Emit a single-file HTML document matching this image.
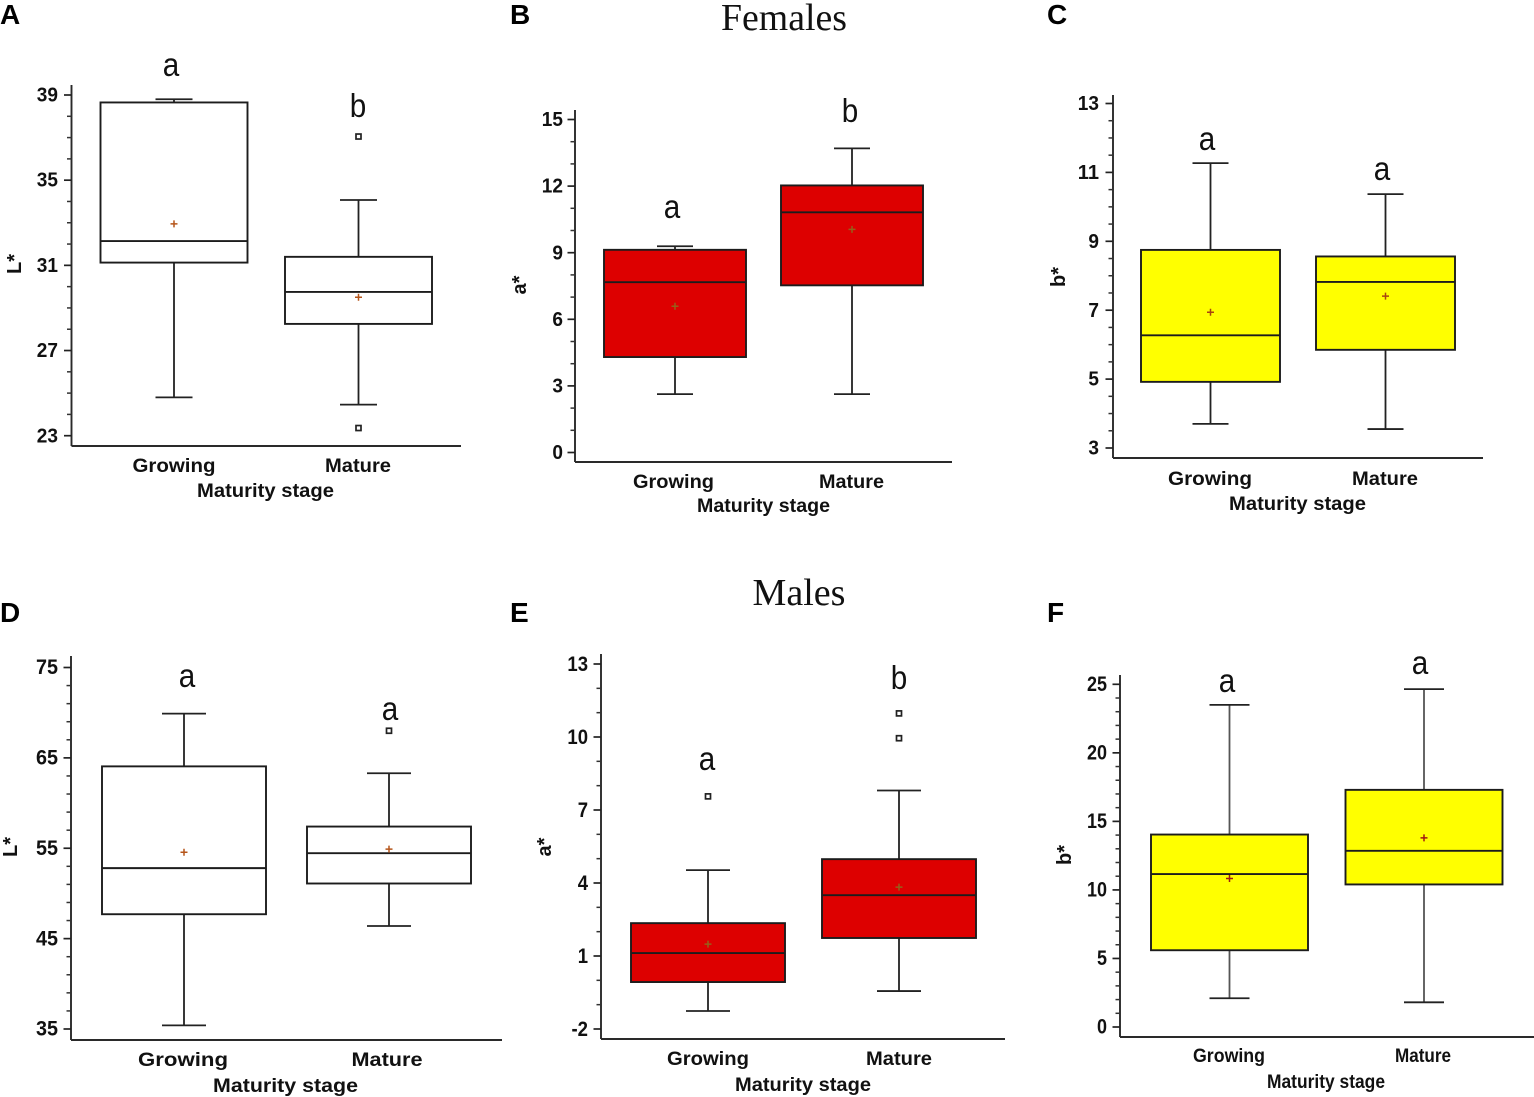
<!DOCTYPE html>
<html lang="en">
<head>
<meta charset="utf-8">
<title>Colour parameters by maturity stage</title>
<style>
html,body{margin:0;padding:0;background:#fff;width:1534px;height:1097px;overflow:hidden}
svg{display:block;filter:blur(0.35px)}
text{font-family:"Liberation Sans",sans-serif;fill:#111}
</style>
</head>
<body>
<svg id="figure" width="1534" height="1097" viewBox="0 0 1534 1097" xmlns="http://www.w3.org/2000/svg">
  <text x="0" y="24" font-size="28" font-weight="bold" style="fill:#000">A</text>
  <text x="510" y="24" font-size="28" font-weight="bold" style="fill:#000">B</text>
  <text x="1047" y="24" font-size="28" font-weight="bold" style="fill:#000">C</text>
  <text x="0" y="622" font-size="28" font-weight="bold" style="fill:#000">D</text>
  <text x="510" y="622" font-size="28" font-weight="bold" style="fill:#000">E</text>
  <text x="1047" y="622" font-size="28" font-weight="bold" style="fill:#000">F</text>
  <text x="784" y="30" font-size="38" text-anchor="middle" textLength="126" lengthAdjust="spacingAndGlyphs" style="font-family:'Liberation Serif',serif">Females</text>
  <text x="799" y="605" font-size="38" text-anchor="middle" textLength="93" lengthAdjust="spacingAndGlyphs" style="font-family:'Liberation Serif',serif">Males</text>
</svg>
<script>
// Shared text
const categories = ['Growing', 'Mature'];
const xAxisTitle = 'Maturity stage';

// Box statistics: [lower whisker, Q1, median, Q3, upper whisker]
const boxesA = [[24.8, 31.13, 32.14, 38.65, 38.8], [24.46, 28.25, 29.75, 31.4, 34.07]];
const boxesB = [[2.63, 4.3, 7.67, 9.13, 9.29], [2.63, 7.53, 10.82, 12.03, 13.7]];
const boxesC = [[3.7, 4.92, 6.27, 8.75, 11.27], [3.55, 5.85, 7.82, 8.56, 10.37]];
const boxesD = [[35.4, 47.7, 52.8, 64.06, 69.9], [46.4, 51.1, 54.45, 57.4, 63.3]];
const boxesE = [[-1.26, -0.07, 1.12, 2.35, 4.53], [-0.44, 1.74, 3.5, 4.98, 7.8]];
const boxesF = [[2.1, 5.6, 11.16, 14.04, 23.5], [1.8, 10.4, 12.85, 17.3, 24.65]];

// Means
const meansA = [32.95, 29.5];
const meansB = [6.59, 10.05];
const meansC = [6.94, 7.41];
const meansD = [54.56, 54.9];
const meansE = [1.49, 3.83];
const meansF = [10.83, 13.8];

// Outliers
const outliersA = [[], [37.05, 23.36]];
const outliersB = [[], []];
const outliersC = [[], []];
const outliersD = [[], [68.0]];
const outliersE = [[7.56], [10.97, 9.95]];
const outliersF = [[], []];

// Tick labels
const ticksA = [23, 27, 31, 35, 39];
const ticksB = [0, 3, 6, 9, 12, 15];
const ticksC = [3, 5, 7, 9, 11, 13];
const ticksD = [35, 45, 55, 65, 75];
const ticksE = [-2, 1, 4, 7, 10, 13];
const ticksF = [0, 5, 10, 15, 20, 25];

// Significance letters
const lettersA = ['a', 'b'];
const lettersB = ['a', 'b'];
const lettersC = ['a', 'a'];
const lettersD = ['a', 'a'];
const lettersE = ['a', 'b'];
const lettersF = ['a', 'a'];

const panels = [
  {id:'a', boxes:boxesA, means:meansA, outliers:outliersA, ticks:ticksA, letters:lettersA, yTitle:'L*',
   axisX:71.5, axisTop:85, axisBottom:446, axisRight:461, yPx:[435.7,95], minor:3,
   centers:[174,358.5], boxHalf:73.5, cap:18.5, whisker:'#222', tickEnd:58, tickSize:20.5, digitWidth:10.6,
   catX:[174,358], catW:[83,66], catY:472, titleX:265.5, titleW:137, titleY:497,
   yTitleX:21, yTitleY:264, letterX:[171,358], letterY:[76,117], fill:'#fff', meanColor:'#b5551a'},
  {id:'b', boxes:boxesB, means:meansB, outliers:outliersB, ticks:ticksB, letters:lettersB, yTitle:'a*',
   axisX:575, axisTop:110, axisBottom:462, axisRight:952, yPx:[452.5,119.5], minor:2,
   centers:[675,852], boxHalf:71, cap:18, whisker:'#222', tickEnd:563, tickSize:20.5, digitWidth:10.6,
   catX:[673.5,851.5], catW:[81,65], catY:488, titleX:763.5, titleW:133, titleY:512,
   yTitleX:526, yTitleY:285, letterX:[672,850], letterY:[218,122], fill:'#dd0000', meanColor:'#96601a'},
  {id:'c', boxes:boxesC, means:meansC, outliers:outliersC, ticks:ticksC, letters:lettersC, yTitle:'b*',
   axisX:1113, axisTop:95, axisBottom:458, axisRight:1483, yPx:[448,103.5], minor:3,
   centers:[1210.5,1385.5], boxHalf:69.5, cap:18, whisker:'#222', tickEnd:1099, tickSize:20.5, digitWidth:10.6,
   catX:[1210,1385], catW:[84,66], catY:485, titleX:1297.5, titleW:137, titleY:510,
   yTitleX:1065, yTitleY:277, letterX:[1207,1382], letterY:[150,180], fill:'#ffff00', meanColor:'#a8450f'},
  {id:'d', boxes:boxesD, means:meansD, outliers:outliersD, ticks:ticksD, letters:lettersD, yTitle:'L*',
   axisX:71, axisTop:656, axisBottom:1040, axisRight:502, yPx:[1029,667.5], minor:4,
   centers:[184,389], boxHalf:82, cap:22, whisker:'#222', tickEnd:58, tickSize:21, digitWidth:11,
   catX:[183,387], catW:[90,71], catY:1066, titleX:285.5, titleW:145, titleY:1092,
   yTitleX:17, yTitleY:847, letterX:[187,390], letterY:[687,720], fill:'#fff', meanColor:'#b5551a'},
  {id:'e', boxes:boxesE, means:meansE, outliers:outliersE, ticks:ticksE, letters:lettersE, yTitle:'a*',
   axisX:601, axisTop:654, axisBottom:1039, axisRight:1005, yPx:[1029,664], minor:2,
   centers:[708,899], boxHalf:77, cap:22, whisker:'#222', tickEnd:588, tickSize:21.5, digitWidth:10.3,
   catX:[708,899], catW:[82,66], catY:1065, titleX:803, titleW:136, titleY:1091,
   yTitleX:551, yTitleY:847, letterX:[707,899], letterY:[770,689], fill:'#dd0000', meanColor:'#96601a'},
  {id:'f', boxes:boxesF, means:meansF, outliers:outliersF, ticks:ticksF, letters:lettersF, yTitle:'b*',
   axisX:1120, axisTop:675, axisBottom:1037, axisRight:1534, yPx:[1027,684.3], minor:4,
   centers:[1229.5,1424], boxHalf:78.5, cap:20, whisker:'#555', tickEnd:1107, tickSize:21, digitWidth:10,
   catX:[1229,1423], catW:[72,56], catY:1062, titleX:1326, titleW:118, titleY:1088,
   yTitleX:1071, yTitleY:855, letterX:[1227,1420], letterY:[692,674], fill:'#ffff00', meanColor:'#a01a10'}
];

const NS = 'http://www.w3.org/2000/svg';
const svg = document.getElementById('figure');

function node(parent, tag, attrs) {
  const el = document.createElementNS(NS, tag);
  for (const k in attrs) el.setAttribute(k, attrs[k]);
  parent.appendChild(el);
  return el;
}

function makeYScale(p) {
  const d0 = p.ticks[0], d1 = p.ticks[p.ticks.length - 1];
  return v => p.yPx[0] + (v - d0) * (p.yPx[1] - p.yPx[0]) / (d1 - d0);
}

function addLine(parent, x1, y1, x2, y2, stroke, width) {
  return node(parent, 'line', {x1, y1, x2, y2, stroke, 'stroke-width': width});
}

function tickTextWidth(text, digitWidth) {
  let w = 0;
  for (const ch of text) w += ch === '-' ? digitWidth * 0.6 : digitWidth;
  return w;
}

panels.forEach(p => {
  const y = makeYScale(p);
  const g = node(svg, 'g', {});
  
  

  // Axes
  const yAxis = addLine(g, p.axisX, p.axisTop, p.axisX, p.axisBottom, '#2a2a2a', 1.9);
  
  
  const xAxis = addLine(g, p.axisX, p.axisBottom, p.axisRight, p.axisBottom, '#2a2a2a', 1.9);
  
  

  // Y ticks
  p.ticks.forEach((t, i) => {
    const major = addLine(g, p.axisX - 7.5, y(t), p.axisX, y(t), '#222', 1.7);
    
    
    const label = node(g, 'text', {x: p.tickEnd, y: y(t) + p.tickSize * 0.32, 'text-anchor': 'end', 'font-size': p.tickSize, 'font-weight': 'bold'});
    label.textContent = String(t);
    
    
    label.setAttribute('textLength', tickTextWidth(String(t), p.digitWidth));
    label.setAttribute('lengthAdjust', 'spacingAndGlyphs');
    if (i < p.ticks.length - 1) {
      const step = (p.ticks[i + 1] - t) / (p.minor + 1);
      for (let m = 1; m <= p.minor; m++) {
        const minor = addLine(g, p.axisX - 4.5, y(t + step * m), p.axisX, y(t + step * m), '#333', 1.5);
        
        
      }
    }
  });

  // Y title
  const yTitle = node(g, 'text', {x: p.yTitleX, y: p.yTitleY, 'text-anchor': 'middle', 'font-size': 20, 'font-weight': 'bold',
    transform: 'rotate(-90 ' + p.yTitleX + ' ' + p.yTitleY + ')'});
  yTitle.textContent = p.yTitle;
  
  

  // Categories and X title
  categories.forEach((c, i) => {
    const t = node(g, 'text', {x: p.catX[i], y: p.catY, 'text-anchor': 'middle', 'font-size': 19.5, 'font-weight': 'bold',
      textLength: p.catW[i], lengthAdjust: 'spacingAndGlyphs'});
    t.textContent = c;
    
    
  });
  const xt = node(g, 'text', {x: p.titleX, y: p.titleY, 'text-anchor': 'middle', 'font-size': 19.5, 'font-weight': 'bold',
    textLength: p.titleW, lengthAdjust: 'spacingAndGlyphs'});
  xt.textContent = xAxisTitle;
  
  

  // Boxes
  p.boxes.forEach((b, i) => {
    const cx = p.centers[i];
    const bg = node(g, 'g', {});
    
    

    addLine(bg, cx, y(b[0]), cx, y(b[1]), p.whisker, 1.8);
    addLine(bg, cx, y(b[3]), cx, y(b[4]), p.whisker, 1.8);
    addLine(bg, cx - p.cap, y(b[0]), cx + p.cap, y(b[0]), '#222', 1.8);
    addLine(bg, cx - p.cap, y(b[4]), cx + p.cap, y(b[4]), '#222', 1.8);
    node(bg, 'rect', {x: cx - p.boxHalf, y: y(b[3]), width: p.boxHalf * 2, height: y(b[1]) - y(b[3]),
      fill: p.fill, stroke: '#1c1c1c', 'stroke-width': 1.9});
    addLine(bg, cx - p.boxHalf, y(b[2]), cx + p.boxHalf, y(b[2]), '#1c1c1c', 1.9);

    const m = y(p.means[i]);
    const meanMark = node(bg, 'path', {d: 'M' + (cx - 3.5) + ' ' + m + 'H' + (cx + 3.5) + 'M' + cx + ' ' + (m - 3.5) + 'V' + (m + 3.5),
      stroke: p.meanColor, 'stroke-width': 1.5, fill: 'none'});
    
    

    p.outliers[i].forEach(o => {
      const pt = node(bg, 'rect', {x: cx - 2.5, y: y(o) - 2.5, width: 5, height: 5, fill: '#fff', stroke: '#222', 'stroke-width': 1.7});
      
      
    });

    const letter = node(g, 'text', {x: p.letterX[i], y: p.letterY[i], 'text-anchor': 'middle', 'font-size': 33,
      textLength: 16.5, lengthAdjust: 'spacingAndGlyphs'});
    letter.textContent = p.letters[i];
    
    
  });
});
</script>
</body>
</html>
